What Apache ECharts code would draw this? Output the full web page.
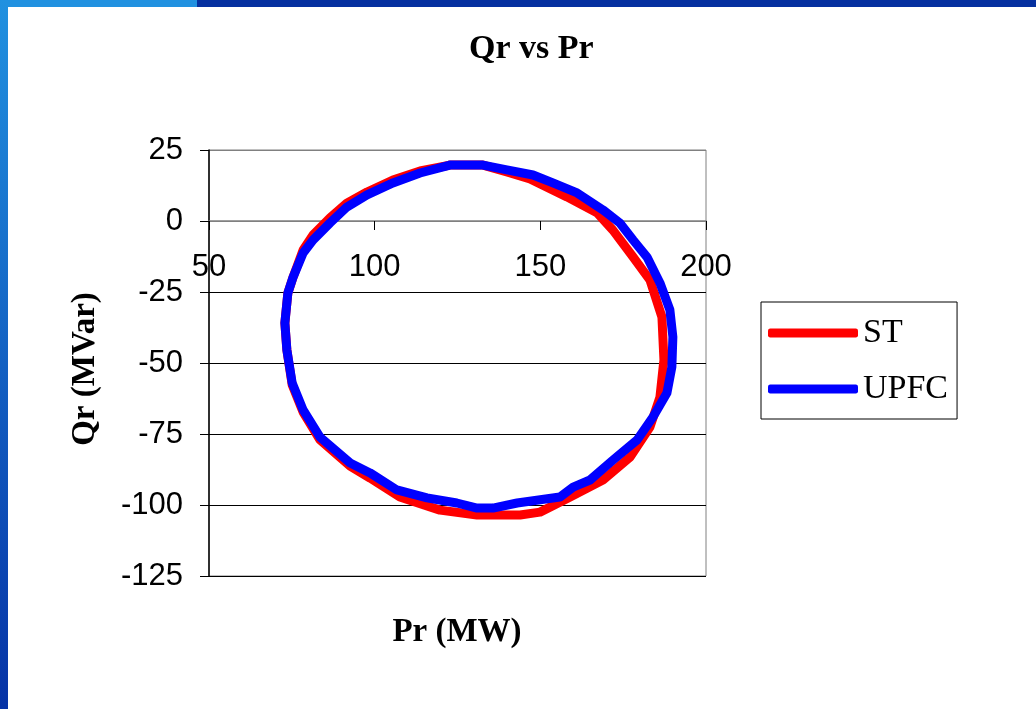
<!DOCTYPE html>
<html>
<head>
<meta charset="utf-8">
<script src="https://cdn.jsdelivr.net/npm/echarts@6/dist/echarts.min.js"></script>
<style>
  html, body { margin: 0; padding: 0; background: #fff; }
  #chart { width: 1036px; height: 709px; }
</style>
</head>
<body>
<div id="chart"></div>
<script>
// Pr (MW) / Qr (MVar), loop goes clockwise from the top
const stPr = [122.7, 132.7, 139.9, 146.9, 158.0, 167.1, 171.9, 178.0, 183.1, 186.7, 187.3, 186.1, 183.1, 177.1, 168.9, 159.0, 149.9, 143.9, 130.9, 119.7, 107.6, 98.6, 92.6, 83.5, 78.4, 75.1, 73.5, 72.9, 73.8, 75.4, 78.4, 81.4, 86.5, 91.6, 97.7, 105.5, 113.7, 122.7];
const stQr = [19.7, 19.7, 17.3, 14.8, 8.5, 2.9, -3.2, -12.7, -20.8, -33.8, -48.9, -62.0, -72.5, -83.1, -91.2, -97.2, -102.5, -103.5, -103.5, -101.8, -97.2, -90.5, -86.3, -77.1, -67.3, -57.7, -45.4, -35.9, -25.4, -19.7, -10.2, -4.9, 1.1, 6.3, 10.2, 14.4, 17.6, 19.7];

const upfcPr = [122.7, 132.7, 139.9, 147.8, 153.8, 161.1, 168.9, 174.0, 178.0, 182.2, 186.1, 189.1, 190.0, 189.7, 188.2, 184.0, 179.2, 171.9, 165.0, 159.9, 155.9, 143.0, 135.7, 130.9, 124.8, 115.8, 106.7, 98.6, 92.6, 83.5, 78.4, 75.1, 73.5, 72.9, 73.8, 75.4, 78.4, 81.4, 86.5, 91.6, 97.7, 105.5, 113.7, 122.7];
const upfcQr = [19.7, 19.7, 18.0, 16.2, 13.4, 9.9, 3.9, -0.7, -6.7, -12.7, -21.8, -31.3, -40.8, -51.4, -60.6, -69.0, -77.1, -84.2, -91.2, -93.7, -97.2, -99.3, -101.1, -101.1, -99.3, -97.5, -94.7, -88.7, -85.2, -76.1, -66.5, -57.0, -45.4, -35.9, -25.4, -19.7, -11.3, -6.7, -0.7, 4.9, 9.2, 13.4, 16.9, 19.7];

const seriesNames = ['ST', 'UPFC'];
const seriesColors = ['#ff0000', '#0000ff'];

const pairs = (xs, ys) => xs.map((x, i) => [x, ys[i]]);

const chart = echarts.init(document.getElementById('chart'));

const serif = '"Liberation Serif", "Times New Roman", serif';
const sans = '"Liberation Sans", Arial, sans-serif';

const option = {
  backgroundColor: '#fff',
  animation: false,
  title: {
    text: 'Qr vs Pr',
    left: 464,
    top: 27,
    textStyle: { fontFamily: serif, fontWeight: 'bold', fontSize: 34, color: '#000' },
  },
  graphic: [
    // slide decoration: top bar and left bar
    { type: 'rect', left: 0, top: 0, shape: { width: 197, height: 7 }, style: { fill: '#2191e0' } },
    { type: 'rect', left: 197, top: 0, shape: { width: 839, height: 7 }, style: { fill: '#0530a0' } },
    {
      type: 'rect', left: 0, top: 0, shape: { width: 8, height: 709 },
      style: {
        fill: new echarts.graphic.LinearGradient(0, 0, 0, 1, [
          { offset: 0, color: '#2191e0' },
          { offset: 1, color: '#0633a6' },
        ]),
      },
    },
    // axis titles
    {
      type: 'text', x: 85, y: 369, rotation: Math.PI / 2,
      style: { text: 'Qr (MVar)', fontFamily: serif, fontWeight: 'bold', fontSize: 33, fill: '#000', align: 'center', verticalAlign: 'middle' },
    },
    {
      type: 'text', x: 457, y: 632,
      style: { text: 'Pr (MW)', fontFamily: serif, fontWeight: 'bold', fontSize: 33, fill: '#000', align: 'center', verticalAlign: 'middle' },
    },
  ],
  legend: {
    orient: 'vertical',
    left: 761,
    top: 302,
    data: seriesNames,
    icon: 'roundRect',
    itemWidth: 90,
    itemHeight: 9,
    itemGap: 22,
    padding: [14, 9, 13, 7],
    borderColor: '#000',
    borderWidth: 1,
    textStyle: { fontFamily: serif, fontSize: 34, color: '#000', padding: [0, 0, 0, 0] },
  },
  grid: {
    left: 209,
    right: 330,
    top: 150,
    bottom: 133,
    show: true,
    borderColor: '#808080',
    borderWidth: 1,
  },
  xAxis: {
    type: 'value',
    min: 50,
    max: 200,
    interval: 50,
    position: 'bottom',
    offset: -355, // the axis crosses at Qr = 0
    axisLine: { onZero: false, lineStyle: { color: '#808080', width: 1.5 } },
    axisTick: { show: true, length: 9, lineStyle: { color: '#000' } },
    axisLabel: { margin: 31, fontFamily: sans, fontSize: 31, color: '#000' },
    splitLine: { show: false },
  },
  yAxis: {
    type: 'value',
    min: -125,
    max: 25,
    interval: 25,
    axisLine: { show: true, onZero: false, lineStyle: { color: '#000', width: 1.5 } },
    axisTick: { show: true, length: 9, lineStyle: { color: '#000' } },
    axisLabel: { margin: 26, fontFamily: sans, fontSize: 31, color: '#000' },
    splitLine: {
      show: true,
      lineStyle: { color: ['#000', '#000', '#000', '#000', '#000', '#808080', '#808080'], width: 1 },
    },
  },
  series: [
    {
      name: seriesNames[0],
      type: 'line',
      symbol: 'none',
      color: seriesColors[0],
      lineStyle: { width: 9, cap: 'round', join: 'round' },
      data: pairs(stPr, stQr),
      z: 3,
    },
    {
      name: seriesNames[1],
      type: 'line',
      symbol: 'none',
      color: seriesColors[1],
      lineStyle: { width: 9, cap: 'round', join: 'round' },
      data: pairs(upfcPr, upfcQr),
      z: 4,
    },
  ],
};

chart.setOption(option);
</script>
</body>
</html>
